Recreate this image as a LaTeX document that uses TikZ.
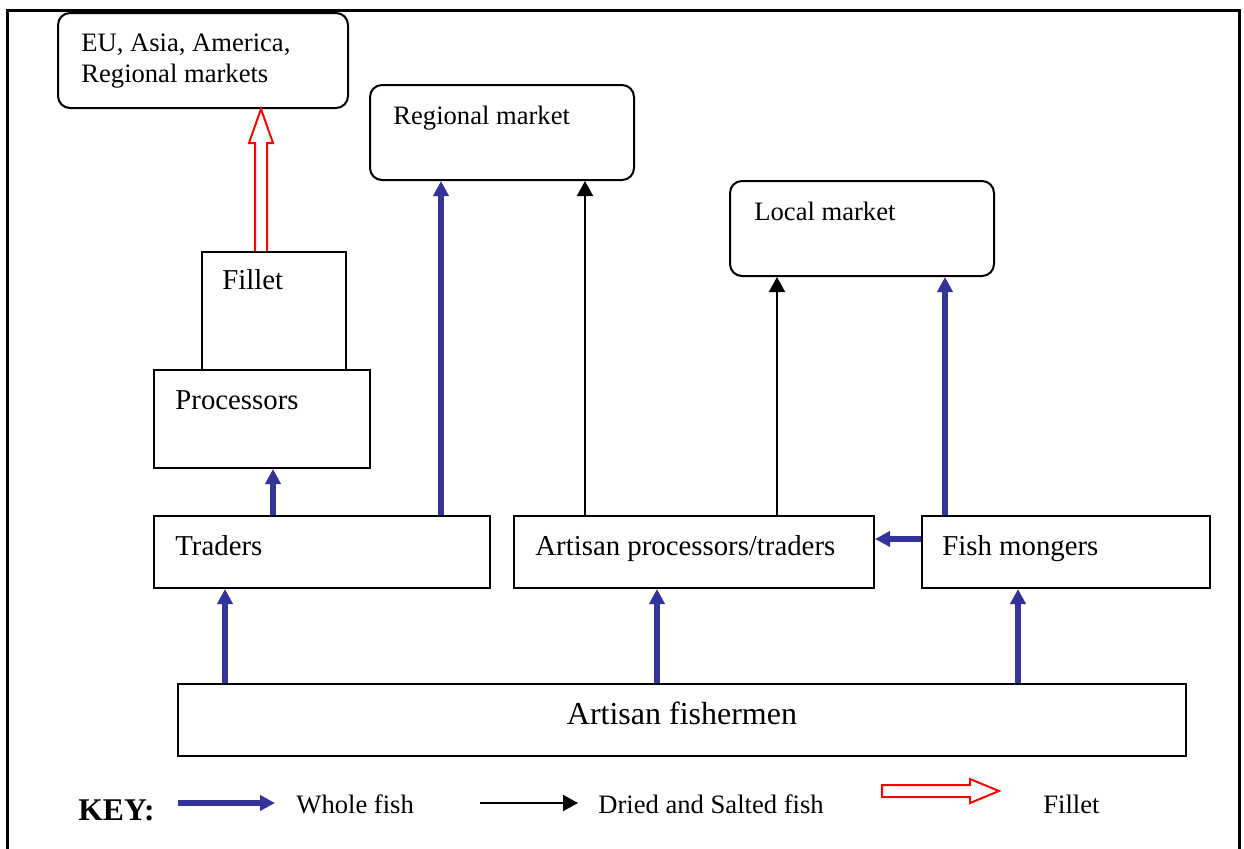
\documentclass[tikz,border=0pt]{standalone}
\usepackage{fontspec}
\setmainfont{Liberation Serif}
\usetikzlibrary{arrows.meta,calc}
\definecolor{wfblue}{RGB}{51,51,153}
\tikzset{
  box/.style={draw, line width=1pt, rectangle, inner sep=0pt, anchor=north west},
  rbox/.style={box, rounded corners=6pt},
  sm/.style={font=\fontsize{13.3}{15.5}\selectfont, anchor=base west, inner sep=0pt},
  md/.style={font=\fontsize{14.4}{17}\selectfont, anchor=base west, inner sep=0pt},
  lg/.style={font=\fontsize{16}{19}\selectfont, anchor=base, inner sep=0pt},
  whole/.style={draw=wfblue, line width=2.6pt, -{Triangle[length=7.5pt,width=7.5pt]}},
  dried/.style={draw=black, line width=1pt, -{Triangle[length=7.5pt,width=8pt]}},
  filletarrow/.style={draw=red, line width=1pt, fill=white, line join=miter},
}
\begin{document}
\begin{tikzpicture}[x=0.5pt,y=-0.5pt]
\useasboundingbox (0,0) rectangle (1244,848);
\clip (0,0) rectangle (1244,848);
% frame
\draw[line width=1.5pt] (7,870) -- (7,10) -- (1239,10) -- (1239,870);

% boxes
\node[rbox, minimum width=145pt, minimum height=47.5pt] (eu) at (57,12) {};
\node[rbox, minimum width=132pt, minimum height=47.5pt] (reg) at (369,84) {};
\node[rbox, minimum width=132pt, minimum height=47.5pt] (loc) at (729,180) {};
\node[box, minimum width=72pt, minimum height=59pt] (fil) at (201,251) {};
\node[box, minimum width=108pt, minimum height=49pt] (proc) at (153,369) {};
\node[box, minimum width=168pt, minimum height=36pt] (trad) at (153,515) {};
\node[box, minimum width=180pt, minimum height=36pt] (art) at (513,515) {};
\node[box, minimum width=144pt, minimum height=36pt] (fm) at (921,515) {};
\node[box, minimum width=504pt, minimum height=36pt] (fish) at (177,683) {};

% texts
\node[sm] (eut1) at (81,51) {EU, Asia, America,};
\node[sm] (eut2) at (81,82) {Regional markets};
\node[sm] (regt) at (393,124) {Regional market};
\node[sm] (loct) at (754,220) {Local market};
\node[md] (filt) at (222,289) {Fillet};
\node[md] (proct) at (175,409) {Processors};
\node[md] (tradt) at (175,555) {Traders};
\node[md] (artt) at (535,555) {Artisan processors/traders};
\node[md] (fmt) at (942,555) {Fish mongers};
\node[lg] (fisht) at (682,724) {Artisan fishermen};

% connectors
\draw[whole] (225,0 |- fish.north) -- (225,0 |- trad.south);
\draw[whole] (657,0 |- fish.north) -- (657,0 |- art.south);
\draw[whole] (1018,0 |- fish.north) -- (1018,0 |- fm.south);
\draw[whole] (273,0 |- trad.north) -- (273,0 |- proc.south);
\draw[whole] (441,0 |- trad.north) -- (441,0 |- reg.south);
\draw[dried] (585,0 |- art.north) -- (585,0 |- reg.south);
\draw[dried] (777,0 |- art.north) -- (777,0 |- loc.south);
\draw[whole] (945,0 |- fm.north) -- (945,0 |- loc.south);
\draw[whole] (fm.west |- 0,539) -- (art.east |- 0,539);
\draw[filletarrow] (255,0 |- fil.north) -- (255,143) -- (249,143) -- (261,0 |- eu.south)
  -- (273,143) -- (267,143) -- (267,0 |- fil.north);

% key
\node[font=\fontsize{15.8}{18}\selectfont\bfseries, anchor=base west, inner sep=0pt] (key) at (78,820) {KEY:};
\coordinate (k1a) at (178,803);
\coordinate (k1b) at (275,803);
\draw[whole] (k1a) -- (k1b);
\node[sm] (k1t) at (296,813) {Whole fish};
\coordinate (k2a) at (480,803);
\coordinate (k2b) at (578,803);
\draw[dried] (k2a) -- (k2b);
\node[sm] (k2t) at (598,813) {Dried and Salted fish};
\draw[filletarrow] (882,785) -- (970,785) -- (970,779) -- (999,791) -- (970,803) -- (970,797) -- (882,797) -- cycle;
\node[sm] (k3t) at (1043,813) {Fillet};
\end{tikzpicture}
\end{document}
